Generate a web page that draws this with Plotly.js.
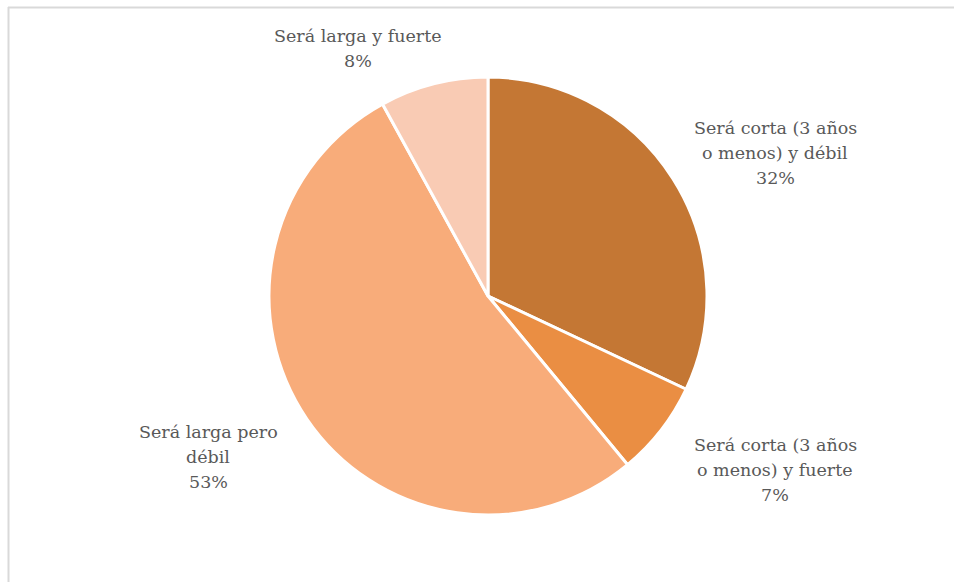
<!DOCTYPE html>
<html>
<head>
<meta charset="utf-8">
<script src="https://cdn.plot.ly/plotly-3.0.1.min.js"></script>
<style>html,body{margin:0;padding:0;background:#fff;}#chart{width:955px;height:582px;}</style>
</head>
<body>
<div id="chart"></div>
<script>
var categories = [
  "Será corta (3 años<br>o menos) y débil",
  "Será corta (3 años<br>o menos) y fuerte",
  "Será larga pero<br>débil",
  "Será larga y fuerte"
];
var values = [32, 7, 53, 8];
var colors = ["#C47734", "#EA8E43", "#F8AC7A", "#F9CBB4"];

var W = 955, H = 582;
function px(x){ return x / W; }
function py(y){ return 1 - y / H; }

// label block centres (x) and first-line centre (y), line spacing
var labelPos = [
  {x: 775, y: 128},
  {x: 775, y: 445},
  {x: 208, y: 432},
  {x: 358, y: 36}
];
var lineGap = 25;

var total = values.reduce(function(a,b){return a+b;}, 0);
var annotations = [];
categories.forEach(function(c, i){
  var pct = Math.round(values[i] / total * 100) + "%";
  var lines = c.split("<br>").concat([pct]);
  lines.forEach(function(t, k){
    annotations.push({
      xref: "paper", yref: "paper",
      x: px(labelPos[i].x), y: py(labelPos[i].y + k * lineGap),
      xanchor: "center", yanchor: "middle",
      text: t,
      showarrow: false,
      font: {family: "DejaVu Serif, serif", size: 17.5, color: "#595959"}
    });
  });
});

var cx = 488, cy = 296, r = 219;
var data = [{
  type: "pie",
  labels: categories,
  values: values,
  sort: false,
  direction: "clockwise",
  rotation: 0,
  textinfo: "none",
  hoverinfo: "label+percent",
  marker: {colors: colors, line: {color: "#ffffff", width: 3}},
  domain: {x: [px(cx - r), px(cx + r)], y: [py(cy + r), py(cy - r)]},
  showlegend: false
}];

var layout = {
  width: W, height: H,
  margin: {l: 0, r: 0, t: 0, b: 0},
  paper_bgcolor: "#ffffff",
  showlegend: false,
  annotations: annotations,
  shapes: [
    {type: "line", xref: "paper", yref: "paper", x0: px(8), x1: px(954), y0: py(7.5), y1: py(7.5), line: {color: "#d9d9d9", width: 2}},
    {type: "line", xref: "paper", yref: "paper", x0: px(8.5), x1: px(8.5), y0: py(7), y1: 0, line: {color: "#d9d9d9", width: 2}}
  ]
};

Plotly.newPlot("chart", data, layout, {displayModeBar: false, staticPlot: true});
</script>
</body>
</html>
